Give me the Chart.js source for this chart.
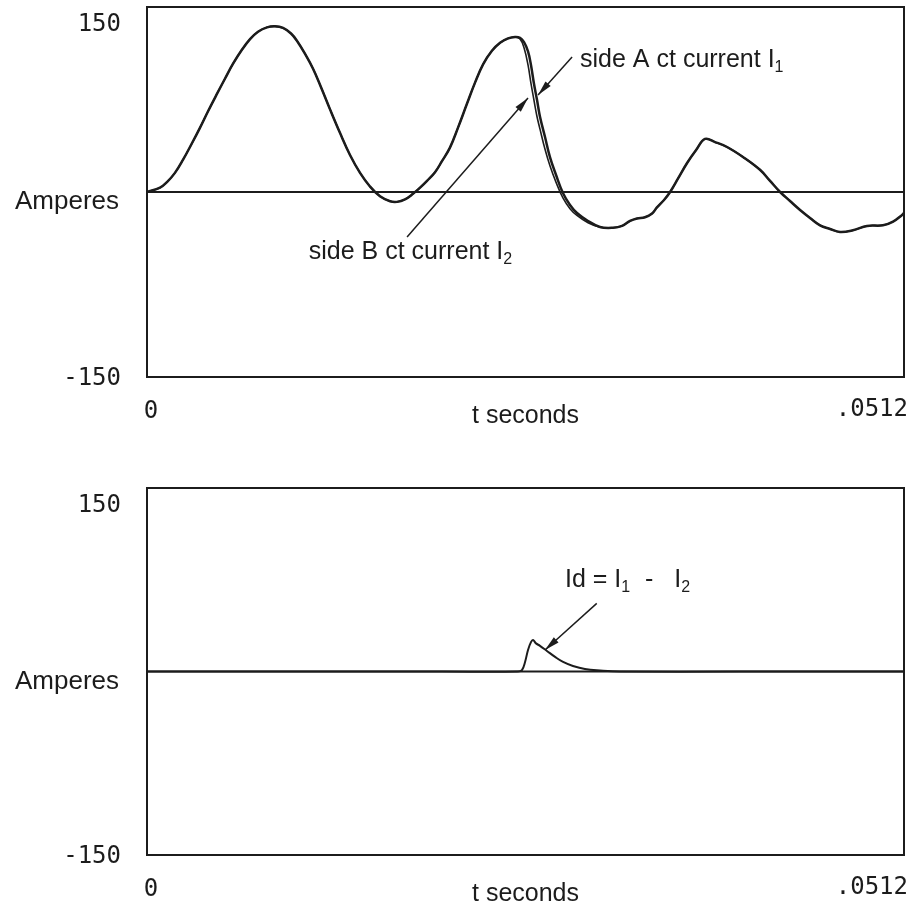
<!DOCTYPE html>
<html><head><meta charset="utf-8">
<script src="https://cdn.jsdelivr.net/npm/chart.js@4"></script>
<style>
html,body{margin:0;padding:0;background:#fff;}
canvas{position:absolute;left:0;}
</style>
</head><body>
<canvas id="c1" width="912" height="440" style="top:0px"></canvas>
<canvas id="c2" width="912" height="471" style="top:440px"></canvas>
<script>
// ---- data (time in milliseconds, current in amperes) ----
const timeMsTop = [0,0.88,1.35,1.89,2.43,3.04,3.58,4.13,4.73,5.28,5.82,6.43,6.97,7.51,8.12,8.66,9.20,9.74,10.15,10.69,11.23,11.77,12.38,13.05,13.73,14.41,15.08,15.76,16.44,16.91,17.45,17.99,18.47,18.94,19.48,19.95,20.49,21.03,21.64,22.18,22.73,23.33,23.88,24.42,24.89,25.23,25.50,25.77,25.97,26.17,26.38,26.58,26.92,27.26,27.66,28.14,28.61,29.08,29.83,30.64,31.52,32.13,32.67,33.14,33.68,34.16,34.49,34.97,35.38,35.92,36.53,37.14,37.74,38.42,39.23,40.31,41.46,42.14,42.82,43.49,44.17,44.84,45.52,46.20,46.87,47.75,48.70,49.78,50.46,51.07,51.2];
const sideA_I1 = [0,3.5,8,15.5,26,39.5,52,65.5,79.5,92,104,115.5,124,130,133.5,134.3,133,128.5,122.5,112,100,85,67,48,30,15.5,4.5,-3.5,-7.5,-8,-6,-1.5,3.5,9,16,25,36,52,71.5,88.5,103.5,114.5,121,124.5,125.7,125,121.6,114,103,88,74.6,61,44.6,28,14,-1,-10.5,-17,-23.5,-28.4,-29,-27.5,-23.5,-21.5,-20.5,-17.5,-12.5,-6.5,0,11,23.5,34,43,40.5,36.5,28.4,18,9,0,-7.3,-14.6,-21,-27,-30,-32.4,-31,-27.5,-27,-24,-18.6,-17];
const sideB_I2 = [0,3.5,8,15.5,26,39.5,52,65.5,79.5,92,104,115.5,124,130,133.5,134.3,133,128.5,122.5,112,100,85,67,48,30,15.5,4.5,-3.5,-7.5,-8,-6,-1.5,3.5,9,16,25,36,52,71.5,88.5,103.5,114.5,121,124.5,125.7,124,117,103,88,74.6,61,51,34.6,21,8,-5,-13.5,-19,-25,-28.6,-29,-27.5,-23.5,-21.5,-20.5,-17.5,-12.5,-6.5,0,11,23.5,34,43,40.5,36.5,28.4,18,9,0,-7.3,-14.6,-21,-27,-30,-32.4,-31,-27.5,-27,-24,-18.6,-17];
const timeMsDiff = [0,10,20,25.09,25.36,25.57,25.77,25.97,26.11,26.31,26.58,27.05,27.60,28.14,28.81,29.62,30.64,31.99,40,51.2];
const diffId = [0,0,0,0,1.2,7.8,17.6,24,25.7,23,21,16.8,11.9,7.8,4.5,2,0.8,0,0,0];

const yTickValues = [-150, 0, 150];
const yTickLabels = ['-150', 'Amperes', '150'];
const xTickValues = [0, 51.2];
const xTickLabels = ['0', '.0512'];
const xTitle = 't seconds';

// annotations: [tail t, tail A, tip t, tip A]
const arrowsTop = [[28.75,109.5,26.45,78.7],[17.59,-36.5,25.77,76.2]];
const arrowsBottom = [[30.42,55.7,26.92,17.6]];
// text notes: t, A, align, parts [text, isSubscript]
const notesTop = [
  {t:29.29, a:107, align:'left', parts:[['side A ct current I',0],['1',1]]},
  {t:24.7, a:-48.6, align:'right', parts:[['side B ct current I',0],['2',1]]}
];
const notesBottom = [
  {t:28.27, a:74.8, align:'left', parts:[['Id = I',0],['1',1],['  -   I',0],['2',1]]}
];

const SANS = '"Liberation Sans", Arial, Helvetica, sans-serif';
const MONO = '"DejaVu Sans Mono", "Liberation Mono", monospace';
const INK = '#1c1c1c';

function toXY(arrT, arrA){ return arrT.map((t,i)=>({x:t, y:arrA[i]})); }

function drawRich(ctx, x, y, parts, size, align){
  const subSize = Math.round(size*0.62);
  const ws = parts.map(p=>{ctx.font = (p[1]?subSize:size)+'px '+SANS; return ctx.measureText(p[0]).width;});
  const total = ws.reduce((a,b)=>a+b,0);
  let cx = align==='right' ? x-total : x;
  ctx.textAlign='left'; ctx.textBaseline='middle';
  parts.forEach((p,i)=>{
    ctx.font = (p[1]?subSize:size)+'px '+SANS;
    ctx.fillText(p[0], cx, p[1] ? y + size*0.32 : y);
    cx += ws[i] + (p[1]?1:0);
  });
}

function drawArrow(ctx, x1,y1,x2,y2){
  ctx.beginPath(); ctx.moveTo(x1,y1); ctx.lineTo(x2,y2); ctx.stroke();
  const ang = Math.atan2(y2-y1, x2-x1), L=15, W=3.5;
  ctx.beginPath(); ctx.moveTo(x2,y2);
  ctx.lineTo(x2-L*Math.cos(ang)+W*Math.sin(ang), y2-L*Math.sin(ang)-W*Math.cos(ang));
  ctx.lineTo(x2-L*Math.cos(ang)-W*Math.sin(ang), y2-L*Math.sin(ang)+W*Math.cos(ang));
  ctx.closePath(); ctx.fill();
}

const framePlugin = {
  id:'frame',
  beforeDatasetsDraw(chart){
    const {ctx, chartArea:ca, scales:{y}} = chart;
    ctx.save();
    ctx.strokeStyle = INK; ctx.lineWidth = 2;
    const y0 = y.getPixelForValue(0);
    ctx.beginPath(); ctx.moveTo(ca.left, y0); ctx.lineTo(ca.right, y0); ctx.stroke();
    ctx.restore();
  },
  afterDraw(chart, args, opts){
    const {ctx, chartArea:ca, scales:{x,y}} = chart;
    ctx.save();
    ctx.strokeStyle = INK; ctx.lineWidth = 2;
    ctx.strokeRect(ca.left, ca.top, ca.right-ca.left, ca.bottom-ca.top);
    ctx.fillStyle = INK;
    // y tick labels
    const lx = ca.left - 26;
    yTickValues.forEach((v,i)=>{
      const py = y.getPixelForValue(v);
      ctx.textAlign='right';
      if (v === 0){
        ctx.font = '26px '+SANS; ctx.textBaseline='alphabetic';
        ctx.fillText(yTickLabels[i], lx-2, py+17);
      } else {
        ctx.font = '24px '+MONO; ctx.textBaseline='middle';
        ctx.fillText(yTickLabels[i], lx, v>0 ? py+18 : py+2);
      }
    });
    // x tick labels
    const ty = ca.bottom + 35;
    ctx.font = '24px '+MONO; ctx.textBaseline='middle';
    ctx.textAlign='center';
    ctx.fillText(xTickLabels[0], x.getPixelForValue(xTickValues[0])+4, ty);
    ctx.textAlign='right';
    ctx.fillText(xTickLabels[1], x.getPixelForValue(xTickValues[1])+4, ty-2);
    ctx.font = '25px '+SANS; ctx.textAlign='center';
    ctx.fillText(xTitle, (ca.left+ca.right)/2, ty+4);
    // annotations
    ctx.lineWidth = 1.5;
    (opts.arrows||[]).forEach(a=>drawArrow(ctx, x.getPixelForValue(a[0]), y.getPixelForValue(a[1]), x.getPixelForValue(a[2]), y.getPixelForValue(a[3])));
    (opts.notes||[]).forEach(n=>drawRich(ctx, x.getPixelForValue(n.t), y.getPixelForValue(n.a), n.parts, 25, n.align));
    ctx.restore();
  }
};

function makeChart(id, datasets, padTop, padBottom, arrows, notes){
  return new Chart(document.getElementById(id), {
    type:'line',
    data:{datasets},
    options:{
      responsive:false, animation:false, events:[],
      layout:{padding:{left:147, right:8, top:padTop, bottom:padBottom}},
      plugins:{legend:{display:false}, tooltip:{enabled:false}, frame:{arrows, notes}},
      scales:{
        x:{type:'linear', min:0, max:51.2, display:false},
        y:{type:'linear', min:-150, max:150, display:false}
      },
      elements:{point:{radius:0}, line:{borderColor:INK, borderWidth:2, tension:0.4, borderJoinStyle:'round', borderCapStyle:'round'}}
    },
    plugins:[framePlugin]
  });
}

makeChart('c1', [
  {label:'side A ct current I1', data:toXY(timeMsTop, sideA_I1), borderWidth:2.5},
  {label:'side B ct current I2', data:toXY(timeMsTop, sideB_I2), borderWidth:1.6}
], 7, 63, arrowsTop, notesTop);

makeChart('c2', [
  {label:'Id = I1 - I2', data:toXY(timeMsDiff, diffId), borderWidth:2}
], 48, 56, arrowsBottom, notesBottom);
</script>
</body></html>
